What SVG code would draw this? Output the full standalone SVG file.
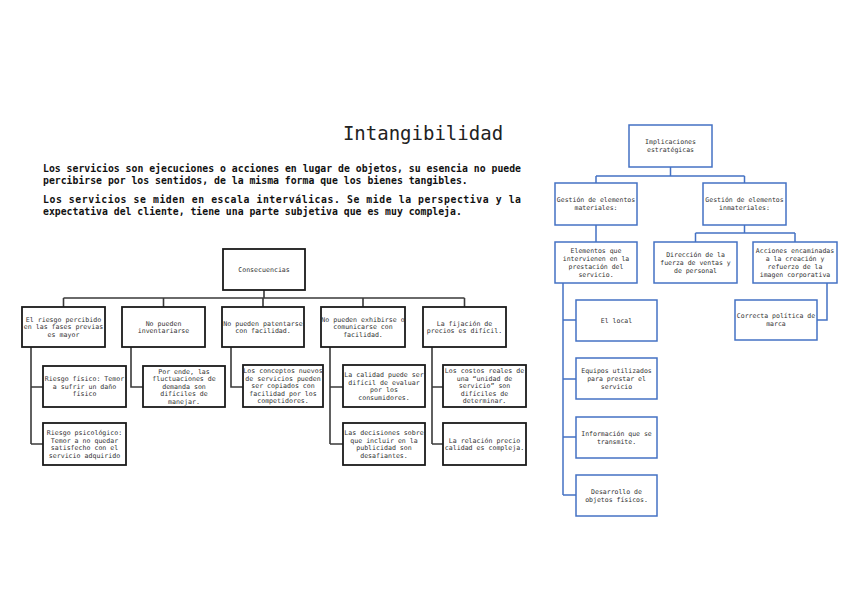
<svg xmlns="http://www.w3.org/2000/svg" width="848" height="599" viewBox="0 0 848 599">
<style>
text{font-family:"DejaVu Sans Mono","Liberation Mono",monospace;}
.title{font-size:19px;fill:#222;}
.para{font-size:9.8px;font-weight:bold;fill:#111;}
.lt{font-size:6.6px;fill:#333;text-anchor:middle;}
.rt{font-size:6.5px;fill:#333;text-anchor:middle;}
.lb{fill:#fff;stroke:#1a1a1a;stroke-width:1.8;}
.rb{fill:#fff;stroke:#4472C4;stroke-width:1.5;}
.lc{fill:none;stroke:#3a3a3a;stroke-width:1.6;}
.rc{fill:none;stroke:#4472C4;stroke-width:1.5;}
</style>
<rect width="848" height="599" fill="#fff"/>
<g id="header">
<text class="title" x="423" y="140" text-anchor="middle">Intangibilidad</text>
<text class="para" x="43" y="172" textLength="478" lengthAdjust="spacing">Los servicios son ejecuciones o acciones en lugar de objetos, su esencia no puede</text>
<text class="para" x="43" y="184">percibirse por los sentidos, de la misma forma que los bienes tangibles.</text>
<text class="para" x="43" y="203" textLength="478" lengthAdjust="spacing">Los servicios se miden en escala interválicas. Se mide la perspectiva y la</text>
<text class="para" x="43" y="215">expectativa del cliente, tiene una parte subjetiva que es muy compleja.</text>
</g>
<g id="connectors">
<path class="lc" d="M264 290V298M63.5 298H464.5M63.5 298V307M163.5 298V307M263 298V307M363 298V307M464.5 298V307"/>
<path class="lc" d="M31 347V444M31 387H43M31 444H43M131 347V387H143M231 347V387H243M330 347V444M330 387H343M330 444H343M432 347V444M432 387H443M432 444H443"/>
<path class="rc" d="M670.5 167V176M596 176H744.5M596 176V183M744.5 176V183M596 225V242M744.5 225V233M695.5 233H795M695.5 233V242M795 233V242"/>
<path class="rc" d="M563 283V495M563 320H576M563 379H576M563 437H576M563 495H576M827 283V320H817"/>
</g>
<g id="consecuencias"><rect class="lb" x="223" y="249" width="82" height="41"/><text class="lt" x="264" y="272">Consecuencias</text></g>
<g id="c1"><rect class="lb" x="22" y="307" width="83" height="40"/><text class="lt" y="321.9"><tspan x="63.5">El riesgo percibido</tspan><tspan x="63.5" dy="7.5">en las fases previas</tspan><tspan x="63.5" dy="7.5">es mayor</tspan></text></g>
<g id="c2"><rect class="lb" x="122" y="307" width="83" height="40"/><text class="lt" y="325.6"><tspan x="163.5">No pueden</tspan><tspan x="163.5" dy="7.5">inventariarse</tspan></text></g>
<g id="c3"><rect class="lb" x="222" y="307" width="82" height="40"/><text class="lt" y="325.6"><tspan x="263">No pueden patentarse</tspan><tspan x="263" dy="7.5">con facilidad.</tspan></text></g>
<g id="c4"><rect class="lb" x="321" y="307" width="84" height="40"/><text class="lt" y="321.9"><tspan x="363">No pueden exhibirse o</tspan><tspan x="363" dy="7.5">comunicarse con</tspan><tspan x="363" dy="7.5">facilidad.</tspan></text></g>
<g id="c5"><rect class="lb" x="423" y="307" width="83" height="40"/><text class="lt" y="325.6"><tspan x="464.5">La fijación de</tspan><tspan x="464.5" dy="7.5">precios es difícil.</tspan></text></g>
<g id="g1a"><rect class="lb" x="43" y="366" width="83" height="41"/><text class="lt" y="381.4"><tspan x="84.5">Riesgo físico: Temor</tspan><tspan x="84.5" dy="7.5">a sufrir un daño</tspan><tspan x="84.5" dy="7.5">físico</tspan></text></g>
<g id="g1b"><rect class="lb" x="43" y="423" width="83" height="42"/><text class="lt" y="435.2"><tspan x="84.5">Riesgo psicológico:</tspan><tspan x="84.5" dy="7.5">Temor a no quedar</tspan><tspan x="84.5" dy="7.5">satisfecho con el</tspan><tspan x="84.5" dy="7.5">servicio adquirido</tspan></text></g>
<g id="g2"><rect class="lb" x="143" y="366" width="82" height="41"/><text class="lt" y="373.9"><tspan x="184">Por ende, las</tspan><tspan x="184" dy="7.5">fluctuaciones de</tspan><tspan x="184" dy="7.5">demanda son</tspan><tspan x="184" dy="7.5">difíciles de</tspan><tspan x="184" dy="7.5">manejar.</tspan></text></g>
<g id="g3"><rect class="lb" x="243" y="365" width="80" height="42"/><text class="lt" y="373.4"><tspan x="283">Los conceptos nuevos</tspan><tspan x="283" dy="7.5">de servicios pueden</tspan><tspan x="283" dy="7.5">ser copiados con</tspan><tspan x="283" dy="7.5">facilidad por los</tspan><tspan x="283" dy="7.5">competidores.</tspan></text></g>
<g id="g4a"><rect class="lb" x="343" y="365" width="82" height="42"/><text class="lt" y="377.2"><tspan x="384">La calidad puede ser</tspan><tspan x="384" dy="7.5">difícil de evaluar</tspan><tspan x="384" dy="7.5">por los</tspan><tspan x="384" dy="7.5">consumidores.</tspan></text></g>
<g id="g4b"><rect class="lb" x="343" y="423" width="82" height="42"/><text class="lt" y="435.2"><tspan x="384">Las decisiones sobre</tspan><tspan x="384" dy="7.5">que incluir en la</tspan><tspan x="384" dy="7.5">publicidad son</tspan><tspan x="384" dy="7.5">desafiantes.</tspan></text></g>
<g id="g5a"><rect class="lb" x="443" y="365" width="83" height="42"/><text class="lt" y="373.4"><tspan x="484.5">Los costos reales de</tspan><tspan x="484.5" dy="7.5">una “unidad de</tspan><tspan x="484.5" dy="7.5">servicio” son</tspan><tspan x="484.5" dy="7.5">difíciles de</tspan><tspan x="484.5" dy="7.5">determinar.</tspan></text></g>
<g id="g5b"><rect class="lb" x="443" y="423" width="83" height="42"/><text class="lt" y="442.7"><tspan x="484.5">La relación precio</tspan><tspan x="484.5" dy="7.5">calidad es compleja.</tspan></text></g>
<g id="implicaciones"><rect class="rb" x="629" y="125" width="83" height="42"/><text class="rt" y="144.4"><tspan x="670.5">Implicaciones</tspan><tspan x="670.5" dy="7.8">estratégicas</tspan></text></g>
<g id="materiales"><rect class="rb" x="555" y="183" width="82" height="42"/><text class="rt" y="202.4"><tspan x="596">Gestión de elementos</tspan><tspan x="596" dy="7.8">materiales:</tspan></text></g>
<g id="inmateriales"><rect class="rb" x="703" y="183" width="83" height="42"/><text class="rt" y="202.4"><tspan x="744.5">Gestión de elementos</tspan><tspan x="744.5" dy="7.8">inmateriales:</tspan></text></g>
<g id="elementos"><rect class="rb" x="555" y="242" width="82" height="41"/><text class="rt" y="253.1"><tspan x="596">Elementos que</tspan><tspan x="596" dy="7.8">intervienen en la</tspan><tspan x="596" dy="7.8">prestación del</tspan><tspan x="596" dy="7.8">servicio.</tspan></text></g>
<g id="direccion"><rect class="rb" x="654" y="242" width="83" height="41"/><text class="rt" y="257"><tspan x="695.5">Dirección de la</tspan><tspan x="695.5" dy="7.8">fuerza de ventas y</tspan><tspan x="695.5" dy="7.8">de personal</tspan></text></g>
<g id="acciones"><rect class="rb" x="753" y="242" width="84" height="41"/><text class="rt" y="253.1"><tspan x="795">Acciones encaminadas</tspan><tspan x="795" dy="7.8">a la creación y</tspan><tspan x="795" dy="7.8">refuerzo de la</tspan><tspan x="795" dy="7.8">imagen corporativa</tspan></text></g>
<g id="local"><rect class="rb" x="576" y="300" width="81" height="41"/><text class="rt" x="616.5" y="322.8">El local</text></g>
<g id="equipos"><rect class="rb" x="576" y="358" width="81" height="41"/><text class="rt" y="373"><tspan x="616.5">Equipos utilizados</tspan><tspan x="616.5" dy="7.8">para prestar el</tspan><tspan x="616.5" dy="7.8">servicio</tspan></text></g>
<g id="informacion"><rect class="rb" x="576" y="417" width="81" height="41"/><text class="rt" y="435.9"><tspan x="616.5">Información que se</tspan><tspan x="616.5" dy="7.8">transmite.</tspan></text></g>
<g id="desarrollo"><rect class="rb" x="576" y="475" width="81" height="41"/><text class="rt" y="493.9"><tspan x="616.5">Desarrollo de</tspan><tspan x="616.5" dy="7.8">objetos físicos.</tspan></text></g>
<g id="correcta"><rect class="rb" x="735" y="300" width="82" height="40"/><text class="rt" y="318.4"><tspan x="776">Correcta política de</tspan><tspan x="776" dy="7.8">marca</tspan></text></g>
</svg>
